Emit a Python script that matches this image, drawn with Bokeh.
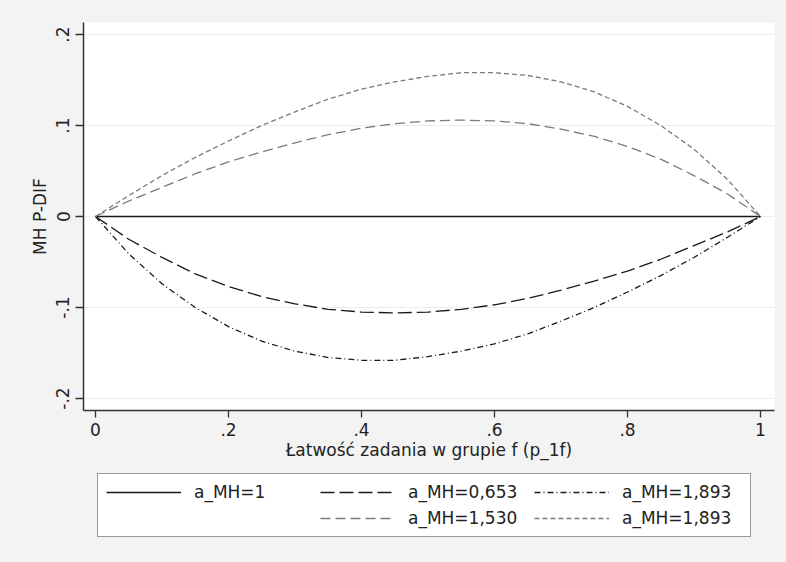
from bokeh.plotting import figure
from bokeh.models import Range1d, FixedTicker, Legend, LegendItem
from bokeh.layouts import column
from bokeh.embed import file_html
from bokeh.resources import INLINE

# ---- data ----
p_1f = [0.0, 0.05, 0.10, 0.15, 0.20, 0.25, 0.30, 0.35, 0.40, 0.45, 0.50,
        0.55, 0.60, 0.65, 0.70, 0.75, 0.80, 0.85, 0.90, 0.95, 1.0]
pdif_1 = [0.0] * 21
pdif_0653 = [0.0, -0.025, -0.045, -0.063, -0.077, -0.088, -0.096, -0.102, -0.105, -0.106, -0.105,
             -0.102, -0.097, -0.090, -0.081, -0.071, -0.060, -0.047, -0.032, -0.017, 0.0]
pdif_1893_low = [0.0, -0.041, -0.074, -0.100, -0.121, -0.137, -0.148, -0.155, -0.158, -0.158, -0.154,
                 -0.148, -0.140, -0.129, -0.115, -0.100, -0.083, -0.065, -0.045, -0.023, 0.0]
pdif_1530 = [0.0, 0.017, 0.032, 0.047, 0.060, 0.071, 0.081, 0.090, 0.097, 0.102, 0.105,
             0.106, 0.105, 0.102, 0.096, 0.088, 0.077, 0.063, 0.045, 0.025, 0.0]
pdif_1893_up = [0.0, 0.023, 0.045, 0.065, 0.083, 0.100, 0.115, 0.129, 0.140, 0.148, 0.154,
                0.158, 0.158, 0.155, 0.148, 0.137, 0.121, 0.100, 0.074, 0.041, 0.0]

series_labels = ["a_MH=1", "a_MH=0,653", "a_MH=1,893", "a_MH=1,530", "a_MH=1,893"]

x_ticks = [0, 0.2, 0.4, 0.6, 0.8, 1]
x_tick_labels = ["0", ".2", ".4", ".6", ".8", "1"]
y_ticks = [-0.2, -0.1, 0, 0.1, 0.2]
y_tick_labels = ["-.2", "-.1", "0", ".1", ".2"]

x_title = "Łatwość zadania w grupie f (p_1f)"
y_title = "MH P-DIF"

FONT = "DejaVu Sans"
FS = "17px"
BG = "#f3f3f3"
AX = "#333333"

styles = [
    dict(line_color="#1a1a1a", line_width=1.4),
    dict(line_color="#1a1a1a", line_width=1.3, line_dash="14 5"),
    dict(line_color="#1a1a1a", line_width=1.3, line_dash="6 3 1 3"),
    dict(line_color="#7a7a7a", line_width=1.3, line_dash="10 5"),
    dict(line_color="#7a7a7a", line_width=1.3, line_dash="5 3"),
]
series = [pdif_1, pdif_0653, pdif_1893_low, pdif_1530, pdif_1893_up]

p = figure(width=786, height=470, output_backend="svg", toolbar_location=None,
           x_range=Range1d(-0.01805, 1.02105), y_range=Range1d(-0.21319, 0.21319),
           min_border_left=83, min_border_right=12, min_border_top=22, min_border_bottom=60)
p.border_fill_color = BG
p.background_fill_color = "white"
p.outline_line_color = None

for ax in (p.xaxis[0], p.yaxis[0]):
    ax.axis_line_color = AX
    ax.axis_line_width = 1.5
    ax.major_tick_line_color = AX
    ax.major_tick_line_width = 1.3
    ax.minor_tick_line_color = None
    ax.major_tick_in = 0
    ax.major_label_text_font = FONT
    ax.major_label_text_font_size = FS
    ax.major_label_text_color = "#222222"
    ax.axis_label_text_font = FONT
    ax.axis_label_text_font_size = FS
    ax.axis_label_text_font_style = "normal"
    ax.axis_label_text_color = "#222222"

p.xaxis.ticker = FixedTicker(ticks=x_ticks)
p.xaxis.major_label_overrides = dict(zip(x_ticks, x_tick_labels))
p.xaxis.major_tick_out = 7
p.xaxis.major_label_standoff = 5
p.xaxis.axis_label = x_title
p.xaxis.axis_label_standoff = 1

p.yaxis.ticker = FixedTicker(ticks=y_ticks)
p.yaxis.major_label_overrides = dict(zip(y_ticks, y_tick_labels))
p.yaxis.major_tick_out = 8
p.yaxis.major_label_standoff = 6
p.yaxis.major_label_orientation = "vertical"
p.yaxis.axis_label = y_title
p.yaxis.axis_label_standoff = 4

p.xgrid.grid_line_color = None
p.ygrid.ticker = FixedTicker(ticks=y_ticks)
p.ygrid.grid_line_color = "#ececec"
p.ygrid.grid_line_width = 1

for ys, st in zip(series, styles):
    p.line(p_1f, ys, **st)

# legend panel (Stata-style legend box under the plot); its view range is
# outside the data so the series drawn here only serve as legend glyphs
q = figure(width=786, height=92, output_backend="svg", toolbar_location=None,
           x_range=Range1d(5, 6), y_range=Range1d(5, 6),
           x_axis_type=None, y_axis_type=None,
           min_border_left=0, min_border_right=0, min_border_top=0, min_border_bottom=0)
q.border_fill_color = BG
q.background_fill_color = BG
q.outline_line_color = None
q.grid.visible = False

lr = [q.line(p_1f, ys, **st) for ys, st in zip(series, styles)]
blank = q.line(p_1f, pdif_1, line_alpha=0)

items = [
    LegendItem(label=series_labels[0], renderers=[lr[0]]),
    LegendItem(label=series_labels[1], renderers=[lr[1]]),
    LegendItem(label=series_labels[2], renderers=[lr[2]]),
    LegendItem(label=" ", renderers=[blank]),
    LegendItem(label=series_labels[3], renderers=[lr[3]]),
    LegendItem(label=series_labels[4], renderers=[lr[4]]),
]
legend = Legend(items=items, orientation="horizontal", ncols=3, nrows=2,
                location=(14, 25),
                glyph_width=75, glyph_height=20, label_height=20,
                label_standoff=13, label_width=120, spacing=6, padding=8, margin=0,
                label_text_font=FONT, label_text_font_size=FS, label_text_color="#222222",
                border_line_color=AX, border_line_width=1.5,
                background_fill_color="white", background_fill_alpha=1.0)
q.add_layout(legend, "center")

layout = column(p, q, spacing=0, styles={"background-color": BG})
open("out.html", "w").write(file_html(layout, INLINE))
